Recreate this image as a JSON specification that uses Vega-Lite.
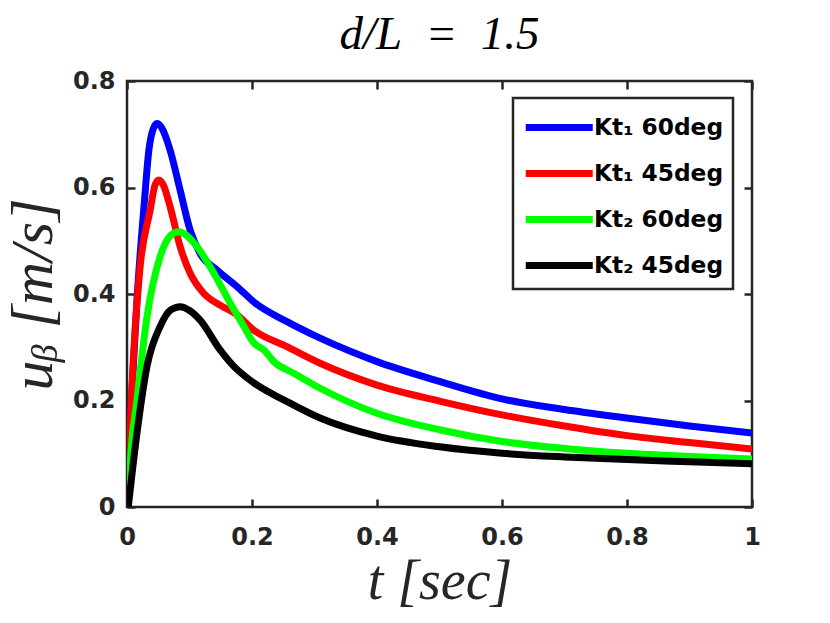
{
  "$schema": "https://vega.github.io/schema/vega-lite/v6.json",
  "width": 625,
  "height": 426,
  "autosize": "none",
  "padding": {"left": 127, "top": 81, "right": 78, "bottom": 116},
  "background": "white",
  "title": {"text": "d/L\u2002=\u20021.5", "font": "Liberation Serif", "fontStyle": "italic", "fontWeight": "normal", "fontSize": 47, "color": "#000000", "offset": 10, "anchor": "middle"},
  "config": {
    "view": {"stroke": "#262626", "strokeWidth": 2.5},
    "axis": {"domain": false, "offset": -8, "tickSize": 8, "tickColor": "#262626", "tickWidth": 2.5, "labelFlush": false, "labelFont": "DejaVu Sans", "labelFontWeight": "bold", "labelFontSize": 24, "labelColor": "#262626", "grid": false, "titleFont": "Liberation Serif", "titleFontStyle": "italic", "titleFontWeight": "normal", "titleFontSize": 56, "titleColor": "#262626"},
    "legend": {"strokeWidth": 2.5}
  },
  "data": {"values": [
    {"t": 0, "u": 0, "s": "Kt₁ 60deg"},
    {"t": 0.008, "u": 0.22, "s": "Kt₁ 60deg"},
    {"t": 0.016, "u": 0.39, "s": "Kt₁ 60deg"},
    {"t": 0.028, "u": 0.576, "s": "Kt₁ 60deg"},
    {"t": 0.035, "u": 0.67, "s": "Kt₁ 60deg"},
    {"t": 0.042, "u": 0.71, "s": "Kt₁ 60deg"},
    {"t": 0.048, "u": 0.72, "s": "Kt₁ 60deg"},
    {"t": 0.055, "u": 0.713, "s": "Kt₁ 60deg"},
    {"t": 0.069, "u": 0.67, "s": "Kt₁ 60deg"},
    {"t": 0.085, "u": 0.595, "s": "Kt₁ 60deg"},
    {"t": 0.101, "u": 0.52, "s": "Kt₁ 60deg"},
    {"t": 0.117, "u": 0.476, "s": "Kt₁ 60deg"},
    {"t": 0.144, "u": 0.445, "s": "Kt₁ 60deg"},
    {"t": 0.176, "u": 0.414, "s": "Kt₁ 60deg"},
    {"t": 0.205, "u": 0.383, "s": "Kt₁ 60deg"},
    {"t": 0.256, "u": 0.348, "s": "Kt₁ 60deg"},
    {"t": 0.309, "u": 0.317, "s": "Kt₁ 60deg"},
    {"t": 0.4, "u": 0.273, "s": "Kt₁ 60deg"},
    {"t": 0.5, "u": 0.236, "s": "Kt₁ 60deg"},
    {"t": 0.6, "u": 0.203, "s": "Kt₁ 60deg"},
    {"t": 0.7, "u": 0.183, "s": "Kt₁ 60deg"},
    {"t": 0.8, "u": 0.167, "s": "Kt₁ 60deg"},
    {"t": 0.9, "u": 0.152, "s": "Kt₁ 60deg"},
    {"t": 1.0, "u": 0.139, "s": "Kt₁ 60deg"},

    {"t": 0, "u": 0, "s": "Kt₁ 45deg"},
    {"t": 0.011, "u": 0.295, "s": "Kt₁ 45deg"},
    {"t": 0.021, "u": 0.451, "s": "Kt₁ 45deg"},
    {"t": 0.037, "u": 0.557, "s": "Kt₁ 45deg"},
    {"t": 0.045, "u": 0.605, "s": "Kt₁ 45deg"},
    {"t": 0.051, "u": 0.614, "s": "Kt₁ 45deg"},
    {"t": 0.058, "u": 0.605, "s": "Kt₁ 45deg"},
    {"t": 0.069, "u": 0.564, "s": "Kt₁ 45deg"},
    {"t": 0.085, "u": 0.489, "s": "Kt₁ 45deg"},
    {"t": 0.101, "u": 0.439, "s": "Kt₁ 45deg"},
    {"t": 0.123, "u": 0.401, "s": "Kt₁ 45deg"},
    {"t": 0.149, "u": 0.379, "s": "Kt₁ 45deg"},
    {"t": 0.176, "u": 0.361, "s": "Kt₁ 45deg"},
    {"t": 0.202, "u": 0.333, "s": "Kt₁ 45deg"},
    {"t": 0.256, "u": 0.301, "s": "Kt₁ 45deg"},
    {"t": 0.309, "u": 0.27, "s": "Kt₁ 45deg"},
    {"t": 0.4, "u": 0.229, "s": "Kt₁ 45deg"},
    {"t": 0.5, "u": 0.199, "s": "Kt₁ 45deg"},
    {"t": 0.6, "u": 0.173, "s": "Kt₁ 45deg"},
    {"t": 0.7, "u": 0.152, "s": "Kt₁ 45deg"},
    {"t": 0.8, "u": 0.134, "s": "Kt₁ 45deg"},
    {"t": 0.9, "u": 0.121, "s": "Kt₁ 45deg"},
    {"t": 1.0, "u": 0.109, "s": "Kt₁ 45deg"},

    {"t": 0.002, "u": 0, "s": "Kt₂ 60deg"},
    {"t": 0.005, "u": 0.076, "s": "Kt₂ 60deg"},
    {"t": 0.016, "u": 0.201, "s": "Kt₂ 60deg"},
    {"t": 0.032, "u": 0.357, "s": "Kt₂ 60deg"},
    {"t": 0.053, "u": 0.47, "s": "Kt₂ 60deg"},
    {"t": 0.07, "u": 0.51, "s": "Kt₂ 60deg"},
    {"t": 0.083, "u": 0.517, "s": "Kt₂ 60deg"},
    {"t": 0.095, "u": 0.51, "s": "Kt₂ 60deg"},
    {"t": 0.112, "u": 0.489, "s": "Kt₂ 60deg"},
    {"t": 0.139, "u": 0.439, "s": "Kt₂ 60deg"},
    {"t": 0.165, "u": 0.383, "s": "Kt₂ 60deg"},
    {"t": 0.187, "u": 0.339, "s": "Kt₂ 60deg"},
    {"t": 0.203, "u": 0.308, "s": "Kt₂ 60deg"},
    {"t": 0.219, "u": 0.295, "s": "Kt₂ 60deg"},
    {"t": 0.235, "u": 0.273, "s": "Kt₂ 60deg"},
    {"t": 0.267, "u": 0.251, "s": "Kt₂ 60deg"},
    {"t": 0.309, "u": 0.223, "s": "Kt₂ 60deg"},
    {"t": 0.4, "u": 0.176, "s": "Kt₂ 60deg"},
    {"t": 0.5, "u": 0.145, "s": "Kt₂ 60deg"},
    {"t": 0.6, "u": 0.123, "s": "Kt₂ 60deg"},
    {"t": 0.7, "u": 0.11, "s": "Kt₂ 60deg"},
    {"t": 0.8, "u": 0.101, "s": "Kt₂ 60deg"},
    {"t": 0.9, "u": 0.095, "s": "Kt₂ 60deg"},
    {"t": 1.0, "u": 0.09, "s": "Kt₂ 60deg"},

    {"t": 0.002, "u": 0, "s": "Kt₂ 45deg"},
    {"t": 0.016, "u": 0.139, "s": "Kt₂ 45deg"},
    {"t": 0.032, "u": 0.264, "s": "Kt₂ 45deg"},
    {"t": 0.053, "u": 0.339, "s": "Kt₂ 45deg"},
    {"t": 0.07, "u": 0.37, "s": "Kt₂ 45deg"},
    {"t": 0.085, "u": 0.376, "s": "Kt₂ 45deg"},
    {"t": 0.1, "u": 0.369, "s": "Kt₂ 45deg"},
    {"t": 0.117, "u": 0.351, "s": "Kt₂ 45deg"},
    {"t": 0.149, "u": 0.295, "s": "Kt₂ 45deg"},
    {"t": 0.171, "u": 0.264, "s": "Kt₂ 45deg"},
    {"t": 0.203, "u": 0.233, "s": "Kt₂ 45deg"},
    {"t": 0.256, "u": 0.198, "s": "Kt₂ 45deg"},
    {"t": 0.309, "u": 0.167, "s": "Kt₂ 45deg"},
    {"t": 0.4, "u": 0.133, "s": "Kt₂ 45deg"},
    {"t": 0.5, "u": 0.113, "s": "Kt₂ 45deg"},
    {"t": 0.6, "u": 0.101, "s": "Kt₂ 45deg"},
    {"t": 0.7, "u": 0.094, "s": "Kt₂ 45deg"},
    {"t": 0.8, "u": 0.089, "s": "Kt₂ 45deg"},
    {"t": 0.9, "u": 0.085, "s": "Kt₂ 45deg"},
    {"t": 1.0, "u": 0.081, "s": "Kt₂ 45deg"}
  ]},
  "resolve": {"axis": {"x": "independent", "y": "independent"}},
  "layer": [
    {
      "mark": {"type": "line", "strokeWidth": 7, "interpolate": "monotone", "clip": true},
      "encoding": {
        "x": {"field": "t", "type": "quantitative", "scale": {"domain": [0, 1], "nice": false}, "axis": {"values": [0, 0.2, 0.4, 0.6, 0.8, 1], "labelExpr": "datum.value == 0 ? '0' : datum.value == 1 ? '1' : format(datum.value, '.1f')", "labelPadding": 18, "title": "t [sec]", "titlePadding": 5}},
        "y": {"field": "u", "type": "quantitative", "scale": {"domain": [0, 0.8], "nice": false}, "axis": {"values": [0, 0.2, 0.4, 0.6, 0.8], "labelExpr": "datum.value == 0 ? '0' : format(datum.value, '.1f')", "labelPadding": 12, "title": "uᵦ [m/s]", "titleFontSize": 60, "titlePadding": 8}},
        "color": {"field": "s", "type": "nominal", "sort": ["Kt₁ 60deg", "Kt₁ 45deg", "Kt₂ 60deg", "Kt₂ 45deg"],
          "scale": {"domain": ["Kt₁ 60deg", "Kt₁ 45deg", "Kt₂ 60deg", "Kt₂ 45deg"], "range": ["#0000FF", "#FF0000", "#00FF00", "#000000"]},
          "legend": {"title": null, "orient": "none", "legendX": 386, "legendY": 17, "symbolType": "M-1,0H3", "symbolSize": 1122, "symbolStrokeWidth": 7, "labelFont": "DejaVu Sans", "labelFontWeight": "bold", "labelFontSize": 23.3, "labelColor": "#000000", "labelOffset": 31, "strokeColor": "#262626", "fillColor": "white", "padding": 9, "rowPadding": 11, "labelLimit": 300}
        }
      }
    },
    {
      "mark": {"type": "line", "strokeOpacity": 0},
      "encoding": {
        "x": {"field": "t", "type": "quantitative", "axis": {"orient": "top", "values": [0, 0.2, 0.4, 0.6, 0.8, 1], "labels": false, "title": null}},
        "y": {"field": "u", "type": "quantitative", "axis": {"orient": "right", "values": [0, 0.2, 0.4, 0.6, 0.8], "labels": false, "title": null}},
        "detail": {"field": "s"}
      }
    }
  ]
}
